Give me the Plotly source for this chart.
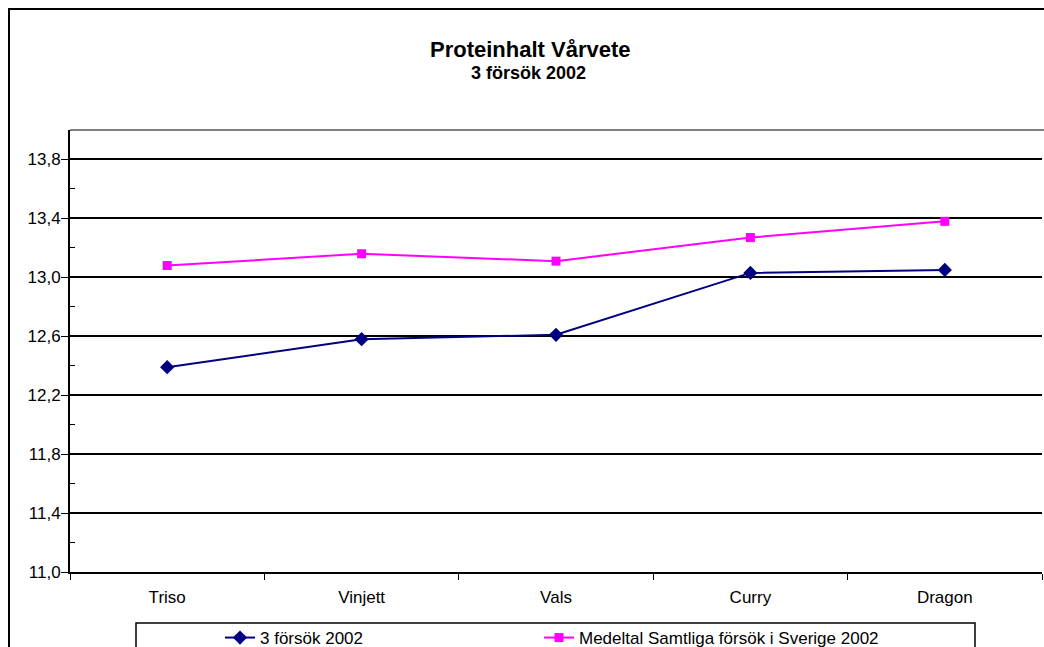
import plotly.graph_objects as go

categories = ["Triso", "Vinjett", "Vals", "Curry", "Dragon"]
series_3forsok = [12.39, 12.58, 12.61, 13.03, 13.05]
series_medeltal = [13.08, 13.16, 13.11, 13.27, 13.38]
name_3forsok = "3 försök 2002"
name_medeltal = "Medeltal Samtliga försök i Sverige 2002"
ytick_vals = [11.0, 11.4, 11.8, 12.2, 12.6, 13.0, 13.4, 13.8]
ytick_text = ["11,0", "11,4", "11,8", "12,2", "12,6", "13,0", "13,4", "13,8"]
title_text = "Proteinhalt Vårvete"
subtitle_text = "3 försök 2002"

W, H = 1044, 647
L, R, T, B = 70, 2, 130, 75
PW = W - L - R
PH = H - T - B

def px(x):
    return (x - L) / PW

def py(y):
    return (H - B - y) / PH

FONT = "Liberation Sans, Arial, sans-serif"
FS = 17

fig = go.Figure()
fig.add_trace(go.Scatter(
    x=categories, y=series_3forsok, name=name_3forsok, mode="lines+markers",
    line=dict(color="#000080", width=2),
    marker=dict(symbol="diamond", size=11, color="#000080"),
    legend="legend",
))
fig.add_trace(go.Scatter(
    x=categories, y=series_medeltal, name=name_medeltal, mode="lines+markers",
    line=dict(color="#FF00FF", width=2),
    marker=dict(symbol="square", size=9, color="#FF00FF"),
    legend="legend2",
))

fig.update_layout(
    width=W, height=H,
    margin=dict(l=L, r=R, t=T, b=B, pad=0, autoexpand=False),
    paper_bgcolor="white", plot_bgcolor="white",
    font=dict(family=FONT, size=FS, color="black"),
    showlegend=True,
    legend=dict(x=px(220), y=py(638), xanchor="left", yanchor="middle",
                bgcolor="rgba(0,0,0,0)", font=dict(size=FS, family=FONT),
                itemwidth=30),
    legend2=dict(x=px(539), y=py(638), xanchor="left", yanchor="middle",
                 bgcolor="rgba(0,0,0,0)", font=dict(size=FS, family=FONT),
                 itemwidth=30),
    xaxis=dict(
        type="category", range=[-0.5, 4.5], tickson="boundaries",
        ticks="outside", ticklen=6, tickcolor="black", tickwidth=1,
        showline=True, linecolor="black", linewidth=2,
        showgrid=False, zeroline=False, ticklabelstandoff=9,
        tickfont=dict(size=FS, family=FONT),
    ),
    yaxis=dict(
        range=[11.0, 14.0], tickvals=ytick_vals, ticktext=ytick_text,
        ticks="outside", ticklen=7, tickcolor="black", tickwidth=1,
        showline=True, linecolor="black", linewidth=2,
        showgrid=True, gridcolor="black", gridwidth=1.6, zeroline=False,
        ticklabelstandoff=-3,
        minor=dict(dtick=0.2, tick0=11.0, ticks="inside", ticklen=5,
                   tickcolor="black", showgrid=False),
        tickfont=dict(size=FS, family=FONT),
    ),
)

shapes = [
    # outer chart border
    dict(type="rect", xref="paper", yref="paper", x0=px(9), x1=px(1060), y0=py(9), y1=py(700),
         line=dict(color="black", width=2), fillcolor="rgba(0,0,0,0)", layer="above"),
    # top plot border (gray)
    dict(type="line", xref="paper", yref="paper", x0=px(70), x1=px(1060), y0=py(130), y1=py(130),
         line=dict(color="#808080", width=2), layer="above"),
    # legend box
    dict(type="rect", xref="paper", yref="paper", x0=px(136), x1=px(975), y0=py(623), y1=py(700),
         line=dict(color="black", width=1.5), fillcolor="rgba(0,0,0,0)", layer="above"),
]
fig.update_layout(shapes=shapes)

fig.add_annotation(text="<b>" + title_text + "</b>", xref="paper", yref="paper",
                   x=px(530), y=py(49), showarrow=False, xanchor="center", yanchor="middle",
                   font=dict(size=22, family=FONT, color="black"))
fig.add_annotation(text="<b>" + subtitle_text + "</b>", xref="paper", yref="paper",
                   x=px(528), y=py(73), showarrow=False, xanchor="center", yanchor="middle",
                   font=dict(size=18, family=FONT, color="black"))

fig.write_html("out.html", config={"displayModeBar": False},
               post_script="document.body.style.margin='0';document.body.style.overflow='hidden';")
